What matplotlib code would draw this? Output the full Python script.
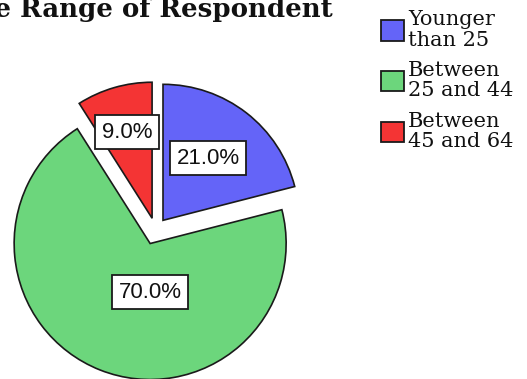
import matplotlib
matplotlib.use("Agg")
import matplotlib.pyplot as plt
from matplotlib.patches import Patch

# data
age_groups = ["Younger\nthan 25", "Between\n25 and 44", "Between\n45 and 64"]
shares = [21.0, 70.0, 9.0]
colors = ["#6464f8", "#6cd67c", "#f43434"]

# pull-out of each slice, and where SPSS put the % boxes (data units)
explode = [0.09, 0.107, 0.09]
label_xy = [(0.386, 0.529), (-0.04, -0.456), (-0.21, 0.72)]

W, H = 527, 379
fig = plt.figure(figsize=(W / 100, H / 100), dpi=100)
fig.patch.set_facecolor("white")

# axes placed so the pie centre sits at ~(155, 230) px with r ~136 px
cx, cy, r = 155.5, 230.0, 136.0
half = 1.25 * r
ax = fig.add_axes([(cx - half) / W, (H - cy - half) / H, 2 * half / W, 2 * half / H])

wedges, texts, autotexts = ax.pie(
    shares,
    colors=colors,
    explode=explode,
    startangle=90,
    counterclock=False,
    radius=1,
    autopct="%.1f%%",
    wedgeprops=dict(edgecolor="#1a1a1a", linewidth=1.2),
    textprops=dict(family="Liberation Sans", fontsize=16, color="#111111"),
)
for t, xy in zip(autotexts, label_xy):
    t.set_position(xy)
    t.set_ha("center")
    t.set_va("center")
    t.set_bbox(dict(boxstyle="square,pad=0.3", facecolor="white",
                    edgecolor="#1a1a1a", linewidth=1.3))

ax.set_xlim(-1.25, 1.25)
ax.set_ylim(-1.25, 1.25)
ax.set_aspect("equal")
ax.axis("off")

# title, clipped on the left like the reference
fig.text(333 / W, 1 - 17 / H, "Age Range of Respondent", ha="right", va="baseline",
         family="DejaVu Serif", fontweight="bold", fontsize=18.7, color="#111111")

handles = [Patch(facecolor=c, edgecolor="#1a1a1a", linewidth=1.3) for c in colors]
leg = fig.legend(handles, age_groups, loc="upper left",
                 bbox_to_anchor=(381 / W, 1 - 10 / H), frameon=False,
                 prop=dict(family="DejaVu Serif", size=15),
                 handlelength=1.1, handleheight=1.15, handletextpad=0.2,
                 labelspacing=0.55, borderaxespad=0, borderpad=0)
for txt in leg.get_texts():
    txt.set_color("#111111")
    txt.set_linespacing(1.1)

fig.savefig("out.png", dpi=100)
